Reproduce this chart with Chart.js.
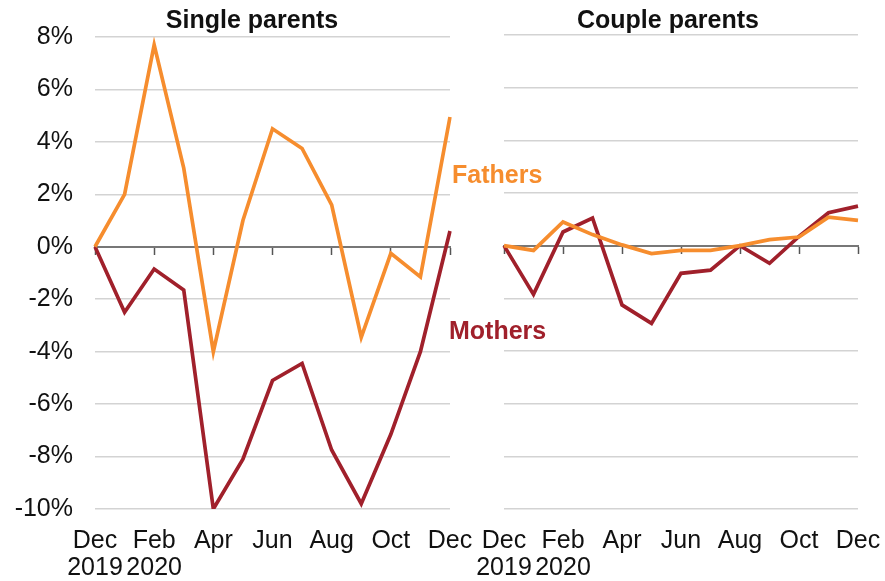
<!DOCTYPE html>
<html>
<head>
<meta charset="utf-8">
<script src="https://cdn.jsdelivr.net/npm/chart.js@4/dist/chart.umd.min.js"></script>
<style>
  html, body { margin: 0; padding: 0; background: #fff; }
  #wrap { position: relative; width: 885px; height: 581px; overflow: hidden;
          font-family: "Liberation Sans", Arial, sans-serif; }
  canvas { position: absolute; top: 0; }
  #left { left: 0; }
  #right { left: 460px; }
  .ttl { position: absolute; top: 7px; width: 240px; text-align: center;
         font-weight: bold; font-size: 25px; line-height: 25px; color: #111; }
  .lbl { position: absolute; font-weight: bold; font-size: 25px; line-height: 25px; }
</style>
</head>
<body>
<div id="wrap">
  <canvas id="left" width="480" height="581"></canvas>
  <canvas id="right" width="425" height="581"></canvas>
  <div class="ttl" style="left:132px">Single parents</div>
  <div class="ttl" style="left:548px">Couple parents</div>
  <div class="lbl" style="left:452px; top:162px; color:#F68D2E">Fathers</div>
  <div class="lbl" style="left:449px; top:318px; color:#A0202B">Mothers</div>
</div>
<script>
// months Dec 2019 .. Dec 2020
const months = ['Dec 2019', 'Jan 2020', 'Feb 2020', 'Mar 2020', 'Apr 2020', 'May 2020', 'Jun 2020',
                'Jul 2020', 'Aug 2020', 'Sep 2020', 'Oct 2020', 'Nov 2020', 'Dec 2020'];
const tickLabels = [['Dec', '2019'], '', ['Feb', '2020'], '', 'Apr', '', 'Jun', '', 'Aug', '', 'Oct', '', 'Dec'];

// % change vs Dec 2019
const singleFathers = [0, 2.0, 7.7, 3.0, -4.0, 1.0, 4.5, 3.75, 1.6, -3.45, -0.25, -1.15, 4.95];
const singleMothers = [0, -2.5, -0.85, -1.65, -10.0, -8.1, -5.1, -4.45, -7.75, -9.8, -7.15, -4.0, 0.6];
const coupleFathers = [0, -0.18, 0.9, 0.42, 0.03, -0.3, -0.18, -0.18, 0.0, 0.23, 0.33, 1.08, 0.96];
const coupleMothers = [0, -1.85, 0.52, 1.05, -2.25, -2.95, -1.05, -0.93, 0.0, -0.67, 0.35, 1.25, 1.5];

const ORANGE = '#F68D2E';
const RED = '#A0202B';
const font = { family: '"Liberation Sans", Arial, sans-serif', size: 25, lineHeight: 1.08 };

function makePanel(canvasId, fathers, mothers, { yWidth, showY, top, right }) {
  return new Chart(document.getElementById(canvasId), {
    type: 'line',
    data: {
      labels: months,
      datasets: [
        { label: 'Fathers', data: fathers, borderColor: ORANGE },
        { label: 'Mothers', data: mothers, borderColor: RED }
      ]
    },
    options: {
      responsive: false,
      animation: false,
      layout: { padding: { top, right, left: 0, bottom: 0 } },
      elements: {
        line: { borderWidth: 3.7, tension: 0, fill: false },
        point: { radius: 0, hoverRadius: 0 }
      },
      plugins: { legend: { display: false }, tooltip: { enabled: false } },
      scales: {
        x: {
          type: 'category',
          offset: false,
          grid: { display: false, drawTicks: false },
          border: { display: false },
          ticks: {
            autoSkip: false, maxRotation: 0, padding: 19, color: '#111', font,
            callback: (v, i) => tickLabels[i]
          },
          // fixed axis box, no label-driven side padding
          afterFit: (s) => { s.height = 72; s.paddingLeft = 0; s.paddingRight = 0; }
        },
        x0: {
          type: 'category',
          position: { y: 0 },
          offset: false,
          grid: {
            drawOnChartArea: false, drawTicks: true, tickLength: 7, tickWidth: 1.5,
            tickColor: (ctx) => (ctx.index % 2 === 0 ? '#555' : 'rgba(0,0,0,0)')
          },
          border: { display: true, color: '#777', width: 2 },
          ticks: { display: false, autoSkip: false }
        },
        y: {
          min: -10, max: 8,
          grid: {
            drawTicks: false, lineWidth: 1.5,
            color: (ctx) => (ctx.tick && ctx.tick.value === 0 ? 'rgba(0,0,0,0)' : '#d3d3d3')
          },
          border: { display: false },
          ticks: {
            display: showY, stepSize: 2, padding: 22, color: '#111', font,
            callback: (v) => v + '%'
          },
          afterFit: (s) => { s.width = yWidth; }
        }
      }
    }
  });
}

makePanel('left', singleFathers, singleMothers, { yWidth: 95, showY: true, top: 37, right: 30 });
makePanel('right', coupleFathers, coupleMothers, { yWidth: 44, showY: false, top: 35, right: 27 });
</script>
</body>
</html>
